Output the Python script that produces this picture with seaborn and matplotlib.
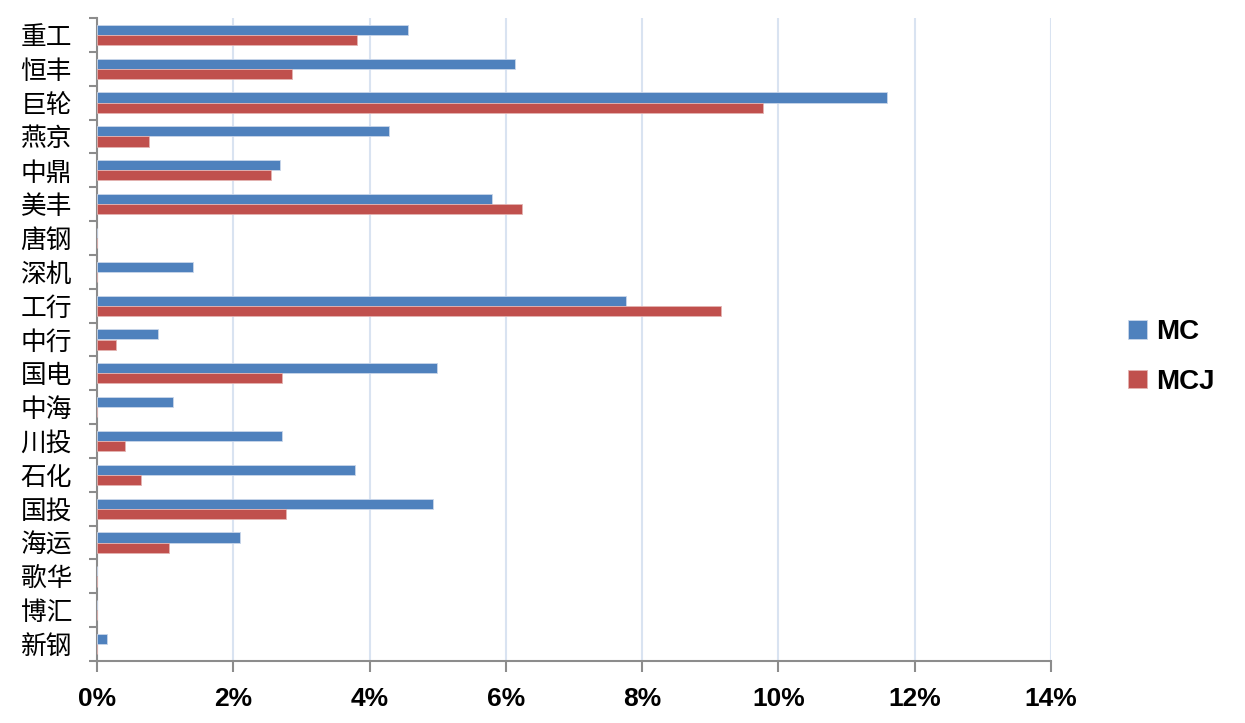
import numpy as np
import matplotlib
matplotlib.use('Agg')
import matplotlib.pyplot as plt
import pandas as pd
import seaborn as sns
from matplotlib.ticker import FixedLocator, PercentFormatter

# dane
kategorie = ['重工', '恒丰', '巨轮', '燕京', '中鼎', '美丰', '唐钢', '深机', '工行', '中行',
             '国电', '中海', '川投', '石化', '国投', '海运', '歌华', '博汇', '新钢']
mc = [4.56, 6.14, 11.59, 4.28, 2.68, 5.80, 0.0, 1.41, 7.77, 0.89,
      4.99, 1.12, 2.71, 3.79, 4.93, 2.10, 0.0, 0.0, 0.14]
mcj = [3.82, 2.86, 9.78, 0.76, 2.55, 6.24, 0.0, 0.0, 9.15, 0.28,
       2.71, 0.0, 0.41, 0.65, 2.77, 1.06, 0.0, 0.0, 0.0]

df = pd.DataFrame({'kat': kategorie * 2,
                   'val': mc + mcj,
                   'seria': ['MC'] * len(mc) + ['MCJ'] * len(mcj)})

sns.set_style('white')
plt.rcParams['font.family'] = ['Noto Sans CJK SC', 'DejaVu Sans']
plt.rcParams['text.color'] = 'black'
plt.rcParams['xtick.labelcolor'] = 'black'
plt.rcParams['ytick.labelcolor'] = 'black'

fig = plt.figure(figsize=(12.45, 7.23), dpi=100)
ax = fig.add_axes([97 / 1245, 1 - 661 / 723, (1051 - 97) / 1245, (661 - 18) / 723])

kolory = {'MC': '#4F81BD', 'MCJ': '#C0504D'}
sns.barplot(data=df, x='val', y='kat', hue='seria', order=kategorie, orient='h',
            palette=kolory, saturation=1, width=0.6, edgecolor='#c9d6ea', linewidth=0.6,
            ax=ax, zorder=3)
for p in ax.patches:
    if p.get_facecolor()[0] > 0.6:
        p.set_edgecolor('#e3b3b1')

ax.set_xlim(0, 14)
ax.set_ylim(len(kategorie) - 0.5, -0.5)
ax.set_xticks(np.arange(0, 15, 2))
ax.xaxis.set_major_formatter(PercentFormatter(decimals=0))
ax.xaxis.grid(True, color='#d9e3f1', linewidth=1.5, zorder=0)
ax.yaxis.grid(False)
ax.set_xlabel('')
ax.set_ylabel('')

for s in ['top', 'right']:
    ax.spines[s].set_visible(False)
for s in ['left', 'bottom']:
    ax.spines[s].set_color('#8c8c8c')
    ax.spines[s].set_linewidth(1.5)

ax.tick_params(axis='x', which='major', length=8, width=1.5, color='#8c8c8c',
               pad=11, direction='out', bottom=True, labelcolor='black')
for t in ax.get_xticklabels():
    t.set_family('Liberation Sans')
    t.set_fontweight('bold')
    t.set_fontsize(19)

ax.tick_params(axis='y', which='major', length=0, pad=18, left=False, labelcolor='black')
ax.yaxis.set_minor_locator(FixedLocator(np.arange(-0.5, len(kategorie), 1)))
ax.tick_params(axis='y', which='minor', length=6, width=1.5, color='#8c8c8c',
               direction='out', left=True)
for t in ax.get_yticklabels():
    t.set_fontsize(18.5)

leg = ax.legend(loc='center left', bbox_to_anchor=(1.055, 0.473), frameon=False,
                handlelength=0.65, handleheight=0.65, handletextpad=0.35,
                labelspacing=0.85, prop={'family': 'Liberation Sans', 'weight': 'bold', 'size': 20})
for t in leg.get_texts():
    t.set_color('black')

plt.savefig('out.png', dpi=100)
